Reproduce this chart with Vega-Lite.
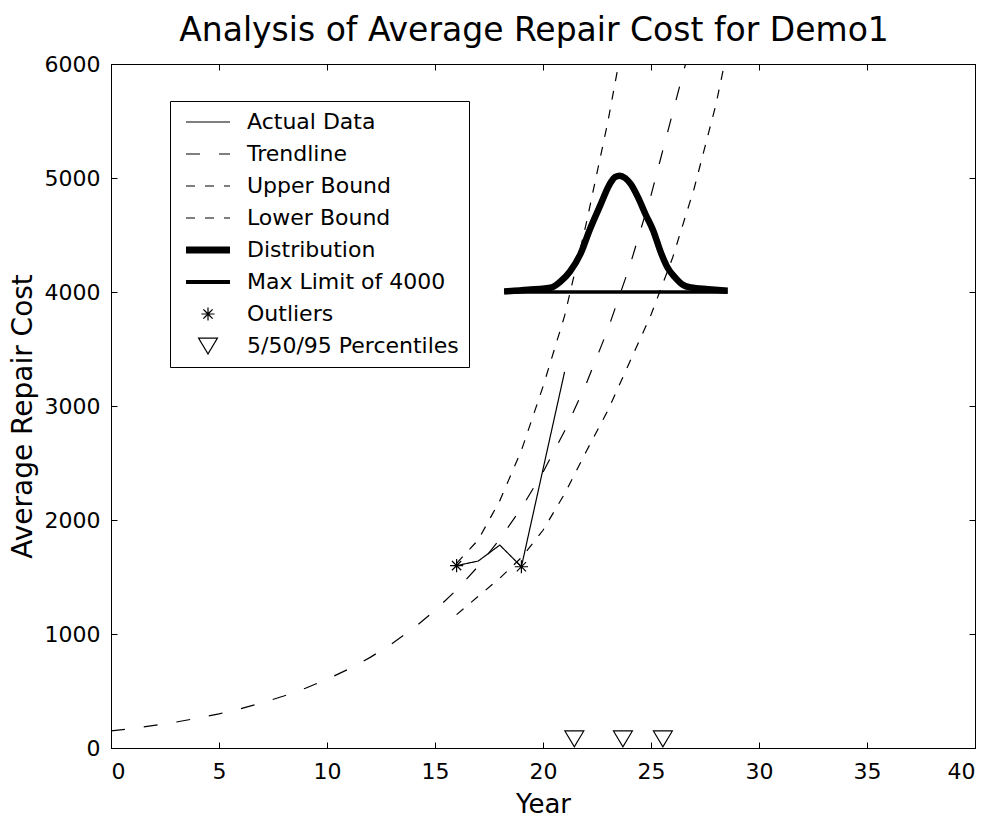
{
  "$schema": "https://vega.github.io/schema/vega-lite/v6.json",
  "width": 864,
  "height": 684,
  "autosize": {"type": "none"},
  "padding": {"left": 111, "top": 64, "right": 19, "bottom": 71},
  "title": {
    "text": "Analysis of Average Repair Cost for Demo1",
    "font": "DejaVu Sans",
    "fontSize": 33,
    "fontWeight": "normal",
    "color": "black",
    "offset": 5,
    "dx": -9
  },
  "config": {
    "font": "DejaVu Sans",
    "view": {"stroke": "black", "strokeWidth": 1},
    "axis": {
      "grid": false,
      "domainColor": "black",
      "tickColor": "black",
      "labelColor": "black",
      "titleColor": "black",
      "labelFont": "DejaVu Sans",
      "titleFont": "DejaVu Sans",
      "labelFontSize": 22,
      "titleFontSize": 26,
      "titleFontWeight": "normal",
      "tickSize": -6,
      "tickWidth": 1,
      "domainWidth": 1
    }
  },
  "datasets": {
    "curves": [
      {"series": "Actual Data", "year": 16, "cost": 1600},
      {"series": "Actual Data", "year": 17, "cost": 1640},
      {"series": "Actual Data", "year": 18, "cost": 1780},
      {"series": "Actual Data", "year": 19, "cost": 1590},
      {"series": "Actual Data", "year": 21, "cost": 3300},

      {"series": "Trendline", "year": 0, "cost": 150},
      {"series": "Trendline", "year": 1, "cost": 172},
      {"series": "Trendline", "year": 2, "cost": 198},
      {"series": "Trendline", "year": 3, "cost": 227},
      {"series": "Trendline", "year": 4, "cost": 262},
      {"series": "Trendline", "year": 5, "cost": 300},
      {"series": "Trendline", "year": 6, "cost": 345},
      {"series": "Trendline", "year": 7, "cost": 397},
      {"series": "Trendline", "year": 8, "cost": 456},
      {"series": "Trendline", "year": 9, "cost": 524},
      {"series": "Trendline", "year": 10, "cost": 602},
      {"series": "Trendline", "year": 11, "cost": 692},
      {"series": "Trendline", "year": 12, "cost": 795},
      {"series": "Trendline", "year": 13, "cost": 914},
      {"series": "Trendline", "year": 14, "cost": 1050},
      {"series": "Trendline", "year": 15, "cost": 1207},
      {"series": "Trendline", "year": 16, "cost": 1387},
      {"series": "Trendline", "year": 17, "cost": 1594},
      {"series": "Trendline", "year": 18, "cost": 1832},
      {"series": "Trendline", "year": 19, "cost": 2105},
      {"series": "Trendline", "year": 20, "cost": 2419},
      {"series": "Trendline", "year": 21, "cost": 2780},
      {"series": "Trendline", "year": 22, "cost": 3194},
      {"series": "Trendline", "year": 23, "cost": 3671},
      {"series": "Trendline", "year": 24, "cost": 4218},
      {"series": "Trendline", "year": 25, "cost": 4847},
      {"series": "Trendline", "year": 26, "cost": 5570},
      {"series": "Trendline", "year": 26.6, "cost": 6000},

      {"series": "Upper Bound", "year": 16, "cost": 1620},
      {"series": "Upper Bound", "year": 17, "cost": 1825},
      {"series": "Upper Bound", "year": 18, "cost": 2170},
      {"series": "Upper Bound", "year": 19, "cost": 2610},
      {"series": "Upper Bound", "year": 20, "cost": 3170},
      {"series": "Upper Bound", "year": 21, "cost": 3790},
      {"series": "Upper Bound", "year": 22, "cost": 4600},
      {"series": "Upper Bound", "year": 23, "cost": 5490},
      {"series": "Upper Bound", "year": 23.5, "cost": 6000},

      {"series": "Lower Bound", "year": 16, "cost": 1170},
      {"series": "Lower Bound", "year": 17, "cost": 1330},
      {"series": "Lower Bound", "year": 18, "cost": 1490},
      {"series": "Lower Bound", "year": 19, "cost": 1670},
      {"series": "Lower Bound", "year": 20, "cost": 1910},
      {"series": "Lower Bound", "year": 21, "cost": 2230},
      {"series": "Lower Bound", "year": 22, "cost": 2600},
      {"series": "Lower Bound", "year": 23, "cost": 2960},
      {"series": "Lower Bound", "year": 24, "cost": 3380},
      {"series": "Lower Bound", "year": 25, "cost": 3800},
      {"series": "Lower Bound", "year": 26, "cost": 4300},
      {"series": "Lower Bound", "year": 27, "cost": 4910},
      {"series": "Lower Bound", "year": 28, "cost": 5640},
      {"series": "Lower Bound", "year": 28.4, "cost": 6000},

      {"series": "Distribution", "year": 18.2, "cost": 4005},
      {"series": "Distribution", "year": 19.3, "cost": 4020},
      {"series": "Distribution", "year": 20.4, "cost": 4040},
      {"series": "Distribution", "year": 20.8, "cost": 4090},
      {"series": "Distribution", "year": 21.25, "cost": 4180},
      {"series": "Distribution", "year": 21.75, "cost": 4340},
      {"series": "Distribution", "year": 22.15, "cost": 4540},
      {"series": "Distribution", "year": 22.65, "cost": 4760},
      {"series": "Distribution", "year": 23.1, "cost": 4950},
      {"series": "Distribution", "year": 23.35, "cost": 5010},
      {"series": "Distribution", "year": 23.55, "cost": 5020},
      {"series": "Distribution", "year": 23.8, "cost": 5000},
      {"series": "Distribution", "year": 24.05, "cost": 4950},
      {"series": "Distribution", "year": 24.4, "cost": 4830},
      {"series": "Distribution", "year": 24.75, "cost": 4680},
      {"series": "Distribution", "year": 25.1, "cost": 4540},
      {"series": "Distribution", "year": 25.45, "cost": 4350},
      {"series": "Distribution", "year": 25.75, "cost": 4220},
      {"series": "Distribution", "year": 26.1, "cost": 4130},
      {"series": "Distribution", "year": 26.5, "cost": 4060},
      {"series": "Distribution", "year": 26.85, "cost": 4040},
      {"series": "Distribution", "year": 27.65, "cost": 4025},
      {"series": "Distribution", "year": 28.55, "cost": 4010},

      {"series": "Max Limit of 4000", "year": 18.2, "cost": 4000},
      {"series": "Max Limit of 4000", "year": 28.55, "cost": 4000}
    ],
    "markers": [
      {"series": "Outliers", "year": 16, "cost": 1600},
      {"series": "Outliers", "year": 19, "cost": 1590},
      {"series": "5/50/95 Percentiles", "year": 21.45, "cost": 80},
      {"series": "5/50/95 Percentiles", "year": 23.7, "cost": 80},
      {"series": "5/50/95 Percentiles", "year": 25.55, "cost": 80}
    ]
  },
  "resolve": {"axis": {"x": "independent", "y": "independent"}},
  "layer": [
    {
      "data": {"name": "curves"},
      "transform": [
        {"filter": {"field": "series", "oneOf": ["Actual Data", "Trendline", "Upper Bound", "Lower Bound"]}}
      ],
      "mark": {"type": "line", "color": "black", "strokeWidth": 1.2, "clip": true},
      "encoding": {
        "x": {
          "field": "year",
          "type": "quantitative",
          "scale": {"domain": [0, 40], "nice": false, "zero": false},
          "axis": {
            "orient": "bottom",
            "values": [0, 5, 10, 15, 20, 25, 30, 35, 40],
            "title": "Year",
            "labelPadding": 19,
            "titlePadding": 9
          }
        },
        "y": {
          "field": "cost",
          "type": "quantitative",
          "scale": {"domain": [0, 6000], "nice": false},
          "axis": {
            "orient": "left",
            "values": [0, 1000, 2000, 3000, 4000, 5000, 6000],
            "format": "d",
            "title": "Average Repair Cost",
            "titleFontSize": 28,
            "titleY": 352,
            "labelPadding": 17,
            "titlePadding": 7
          }
        },
        "strokeDash": {
          "field": "series",
          "type": "nominal",
          "scale": {
            "domain": ["Actual Data", "Trendline", "Upper Bound", "Lower Bound", "Distribution", "Max Limit of 4000", "Outliers", "5/50/95 Percentiles"],
            "range": [[1, 0], [14, 19], [9, 10], [9, 10], [1, 0], [1, 0], [1, 0], [1, 0]]
          },
          "legend": {
            "title": null,
            "orient": "none",
            "legendX": 59,
            "legendY": 37,
            "padding": 10,
            "strokeColor": "black",
            "fillColor": "white",
            "symbolSize": 1936,
            "symbolOffset": 5,
            "symbolStrokeWidth": 1.2,
            "clipHeight": 22,
            "labelFont": "DejaVu Sans",
            "labelFontSize": 22,
            "labelColor": "black",
            "labelLimit": 400,
            "labelOffset": 16,
            "rowPadding": 10,
            "encode": {
              "symbols": {
                "stroke": {"value": "black"},
                "fill": {"value": "transparent"}
              }
            }
          }
        }
      }
    },
    {
      "data": {"name": "curves"},
      "transform": [{"filter": {"field": "series", "equal": "Distribution"}}],
      "mark": {"type": "line", "color": "black", "strokeWidth": 6.5, "interpolate": "monotone", "clip": true},
      "encoding": {
        "x": {"field": "year", "type": "quantitative", "axis": null},
        "y": {"field": "cost", "type": "quantitative", "axis": null}
      }
    },
    {
      "data": {"name": "curves"},
      "transform": [{"filter": {"field": "series", "equal": "Max Limit of 4000"}}],
      "mark": {"type": "line", "color": "black", "strokeWidth": 3.5, "clip": true},
      "encoding": {
        "x": {"field": "year", "type": "quantitative", "axis": null},
        "y": {"field": "cost", "type": "quantitative", "axis": null}
      }
    },
    {
      "data": {"name": "markers"},
      "mark": {"type": "point", "filled": false, "color": "black", "strokeWidth": 1.2, "size": 1936, "opacity": 1},
      "encoding": {
        "x": {
          "field": "year",
          "type": "quantitative",
          "axis": {"orient": "top", "labels": false, "title": null, "values": [0, 5, 10, 15, 20, 25, 30, 35, 40]}
        },
        "y": {
          "field": "cost",
          "type": "quantitative",
          "axis": {"orient": "right", "labels": false, "title": null, "values": [0, 1000, 2000, 3000, 4000, 5000, 6000]}
        },
        "shape": {
          "field": "series",
          "type": "nominal",
          "scale": {
            "domain": ["Actual Data", "Trendline", "Upper Bound", "Lower Bound", "Distribution", "Max Limit of 4000", "Outliers", "5/50/95 Percentiles"],
            "range": [
              "stroke", "stroke", "stroke", "stroke",
              "M-1,-0.136L1,-0.136M-1,-0.091L1,-0.091M-1,-0.045L1,-0.045M-1,0L1,0M-1,0.045L1,0.045M-1,0.091L1,0.091M-1,0.136L1,0.136",
              "M-1,-0.068L1,-0.068M-1,-0.023L1,-0.023M-1,0.023L1,0.023M-1,0.068L1,0.068",
              "M-0.3,0L0.3,0M0,-0.3L0,0.3M-0.21,-0.21L0.21,0.21M-0.21,0.21L0.21,-0.21",
              "M-0.43,-0.36L0.43,-0.36L0,0.36Z"
            ]
          },
          "legend": {
            "title": null,
            "orient": "none",
            "legendX": 59,
            "legendY": 37,
            "padding": 10,
            "strokeColor": "black",
            "fillColor": "white",
            "symbolSize": 1936,
            "symbolOffset": 5,
            "symbolStrokeWidth": 1.2,
            "clipHeight": 22,
            "labelFont": "DejaVu Sans",
            "labelFontSize": 22,
            "labelColor": "black",
            "labelLimit": 400,
            "labelOffset": 16,
            "rowPadding": 10,
            "encode": {
              "symbols": {
                "stroke": {"value": "black"},
                "fill": {"value": "transparent"}
              }
            }
          }
        }
      }
    }
  ]
}
